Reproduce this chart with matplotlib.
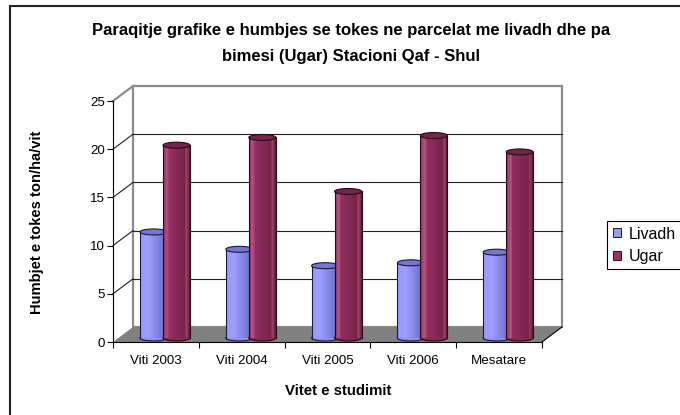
import matplotlib.pyplot as plt
from matplotlib.patches import Ellipse, Polygon, Rectangle, Patch
import numpy as np

plt.rcParams['font.family'] = ['Liberation Sans', 'DejaVu Sans']

# te dhenat
kategorite = ['Viti 2003', 'Viti 2004', 'Viti 2005', 'Viti 2006', 'Mesatare']
livadh = [11.0, 9.2, 7.5, 7.8, 8.9]
ugar = [20.0, 20.8, 15.2, 21.0, 19.3]
seri = ['Livadh', 'Ugar']
yticks = [0, 5, 10, 15, 20, 25]

W, H = 680, 415
fig = plt.figure(figsize=(6.8, 4.15), dpi=100)
ax = fig.add_axes([113 / W, (H - 342) / H, 429 / W, 241 / H])
ax.set_xlim(0, 5)
ax.set_ylim(0, 25)
ax.patch.set_visible(False)

# piksela per njesi
px_x = 429 / 5
px_y = 241 / 25
# zhvendosja e murit te pasem dhe e cilindrave (efekti 3D)
bdx, bdy = 20 / px_x, 15 / px_y
cdx, cdy = 9 / px_x, 4 / px_y

n_cat = len(kategorite)

# dyshemeja
ax.add_patch(Polygon([(0, 0), (n_cat, 0), (n_cat + bdx, bdy), (bdx, bdy)],
                     closed=True, facecolor='#808080', edgecolor='none',
                     zorder=1, clip_on=False))
ax.plot([n_cat, n_cat + bdx], [0, bdy], color='black', lw=0.8, zorder=2, clip_on=False)

# muri i pasem
ax.add_patch(Rectangle((bdx, bdy), n_cat, 25, facecolor='white', edgecolor='#8c8c8c',
                       lw=1.6, zorder=0.5, clip_on=False))
ax.plot([0, bdx], [25, 25 + bdy], color='#8c8c8c', lw=1.6, zorder=0.6, clip_on=False)

# vijat e rrjetit
for y in yticks[1:-1]:
    ax.plot([bdx, n_cat + bdx], [y + bdy, y + bdy], color='#202020', lw=0.8,
            zorder=0.8, clip_on=False)
    ax.plot([0, bdx], [y, y + bdy], color='#202020', lw=0.8, zorder=0.8, clip_on=False)

# cilindrat
w = 0.315
eh = 6 / px_y


def gradient(stops, n):
    t = np.linspace(0, 1, n)
    pos = [s[0] for s in stops]
    cols = []
    for tt in t:
        c = [np.interp(tt, pos, [s[1][k] for s in stops]) / 255 for k in range(3)]
        cols.append(tuple(c))
    return cols


stops_liv = [(0, (152, 152, 255)), (0.3, (158, 158, 255)), (1, (104, 104, 196))]
stops_ugr = [(0, (150, 48, 100)), (0.14, (178, 84, 128)), (0.24, (148, 46, 98)),
             (0.82, (118, 34, 74)), (0.89, (150, 70, 106)), (1, (100, 28, 62))]


def cilinder(xc, v, stops, c_top, edge, z):
    n = 30
    xs = np.linspace(xc - w / 2, xc + w / 2, n + 1)[:-1]
    cols = gradient(stops, n)
    ax.add_patch(Ellipse((xc, cdy), w, eh, facecolor=cols[n // 2], edgecolor=edge,
                         lw=0.8, zorder=z, clip_on=False))
    ax.bar(xs, v, width=w / n, bottom=cdy, align='edge', color=cols, linewidth=0,
           zorder=z + 0.1, clip_on=False)
    ax.plot([xc - w / 2] * 2, [cdy, v + cdy], color=edge, lw=0.8, zorder=z + 0.2,
            clip_on=False)
    ax.plot([xc + w / 2] * 2, [cdy, v + cdy], color=edge, lw=0.8, zorder=z + 0.2,
            clip_on=False)
    ax.add_patch(Ellipse((xc, v + cdy), w, eh, facecolor=c_top, edgecolor=edge,
                         lw=0.8, zorder=z + 0.3, clip_on=False))


for i in range(n_cat):
    cilinder(i + 0.367 + cdx, livadh[i], stops_liv, '#7676cc', '#1a1a40', 3)
    cilinder(i + 0.635 + cdx, ugar[i], stops_ugr, '#74254c', '#2a0818', 4)

# boshtet
for s in ['top', 'right']:
    ax.spines[s].set_visible(False)
for s in ['left', 'bottom']:
    ax.spines[s].set_color('black')
    ax.spines[s].set_linewidth(0.8)
    ax.spines[s].set_zorder(2)

ax.set_yticks(yticks)
ax.tick_params(axis='y', length=4.3, width=0.8, pad=1.5, labelsize=9.6)
ax.set_xticks(range(n_cat + 1))
ax.set_xticklabels([''] * (n_cat + 1))
ax.set_xticks([i + 0.5 for i in range(n_cat)], minor=True)
ax.set_xticklabels(kategorite, minor=True)
ax.tick_params(axis='x', which='major', length=4.3, width=0.8)
ax.tick_params(axis='x', which='minor', length=0, pad=9, labelsize=9.6)

# tekstet
fig.text(351 / W, 1 - 31 / H, 'Paraqitje grafike e humbjes se tokes ne parcelat me livadh dhe pa',
         ha='center', va='center', fontsize=12, fontweight='bold')
fig.text(351 / W, 1 - 56 / H, 'bimesi (Ugar) Stacioni Qaf - Shul',
         ha='center', va='center', fontsize=12, fontweight='bold')
fig.text(338 / W, 1 - 391 / H, 'Vitet e studimit', ha='center', va='center',
         fontsize=10.8, fontweight='bold')
fig.text(37 / W, 1 - 222 / H, 'Humbjet e tokes ton/ha/vit', ha='center', va='center',
         rotation=90, fontsize=10.6, fontweight='bold')

# legjenda
handles = [Patch(facecolor='#9999FF', edgecolor='black', lw=0.6),
           Patch(facecolor='#993366', edgecolor='black', lw=0.6)]
leg = fig.legend(handles, seri, loc='upper left', bbox_to_anchor=(607 / W, 1 - 221 / H),
                 fontsize=11.5, frameon=True, fancybox=False, edgecolor='black',
                 framealpha=1, handlelength=0.5, handleheight=0.5, handletextpad=0.5,
                 labelspacing=0.45, borderpad=0.35, borderaxespad=0)
leg.get_frame().set_linewidth(0.8)

# korniza e figures
fig.patches.append(Rectangle((10 / W, -0.1), 1.2, 1 - 6 / H + 0.1, transform=fig.transFigure,
                             fill=False, edgecolor='#222222', lw=1.5))

plt.savefig('out.png', dpi=100)
